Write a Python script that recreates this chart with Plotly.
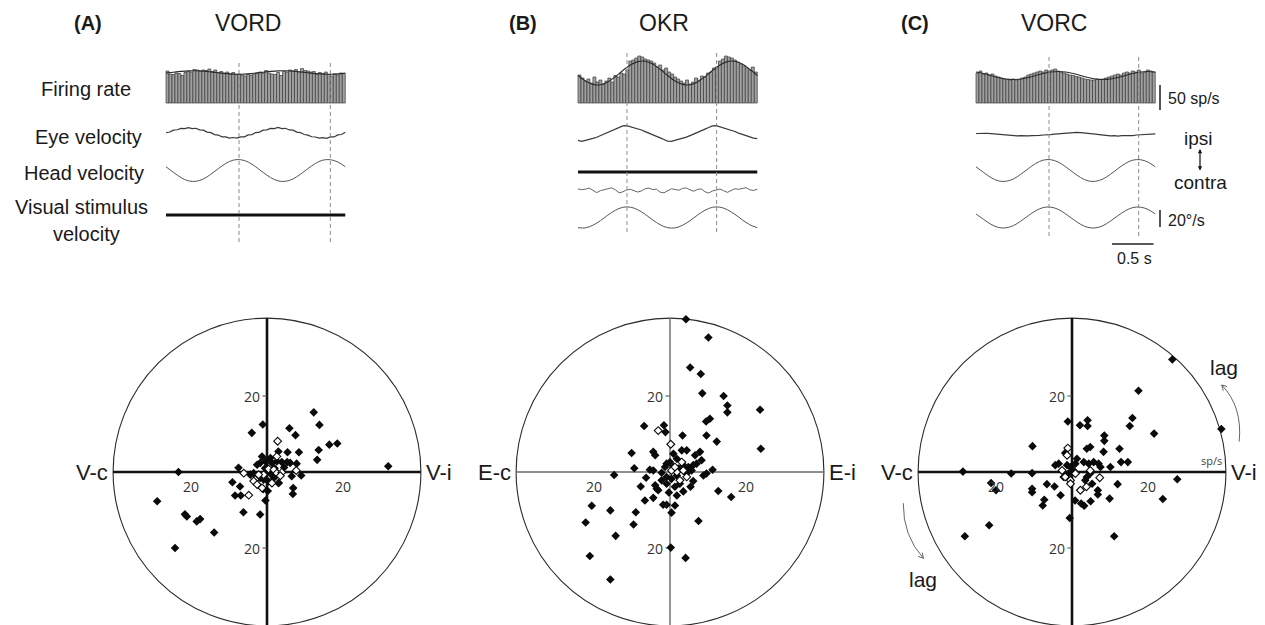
import plotly.graph_objects as go

W, H = 1265, 625

# ---------------- data ----------------
bin_w = 0.036  # histogram bin width, s
fr_A = [64, 58, 57, 60, 59, 55, 61, 63, 62, 67, 66, 64, 66, 65, 68, 63, 66, 61, 63, 60,
        62, 58, 61, 57, 58, 55, 54, 57, 56, 58, 60, 62, 59, 65, 60, 58, 57, 61, 55, 63,
        62, 66, 64, 67, 62, 69, 65, 64, 62, 63, 58, 61, 59, 62, 57, 54, 58, 56, 60, 59]
fr_B = [56, 50, 44, 48, 40, 52, 42, 46, 38, 44, 50, 42, 55, 52, 60, 58, 66, 84, 86, 90,
        94, 92, 88, 86, 84, 80, 72, 76, 66, 70, 62, 58, 52, 48, 44, 40, 46, 38, 42, 50,
        46, 54, 52, 60, 62, 70, 72, 84, 88, 94, 92, 90, 86, 82, 78, 74, 70, 66, 72, 62]
fr_C = [60, 64, 58, 60, 56, 58, 54, 52, 50, 48, 47, 46, 48, 46, 47, 50, 52, 56, 58, 60,
        62, 64, 62, 66, 64, 66, 68, 64, 62, 60, 58, 56, 55, 53, 52, 50, 48, 47, 46, 46,
        48, 47, 48, 50, 52, 54, 56, 58, 56, 60, 62, 60, 64, 62, 66, 60, 62, 66, 64, 62]

t_samp = [0.00, 0.09, 0.18, 0.27, 0.36, 0.45, 0.54, 0.63, 0.72, 0.81, 0.90, 0.99, 1.08,
          1.17, 1.26, 1.35, 1.44, 1.53, 1.62, 1.71, 1.80, 1.89, 1.98, 2.07, 2.16]
fit_A = [59.8, 61.6, 63.2, 64.3, 64.4, 63.7, 62.2, 60.4, 58.8, 57.7, 57.6, 58.3, 59.8,
         61.6, 63.2, 64.3, 64.4, 63.7, 62.2, 60.4, 58.8, 57.7, 57.6, 58.3, 59.8]
fit_B = [55.0, 43.9, 37.2, 36.5, 42.2, 52.6, 65.0, 76.1, 82.8, 83.5, 77.8, 67.4, 55.0,
         43.9, 37.2, 36.5, 42.2, 52.6, 65.0, 76.1, 82.8, 83.5, 77.8, 67.4, 55.0]
fit_C = [62.0, 59.0, 55.0, 51.0, 48.0, 47.0, 48.0, 51.0, 55.0, 59.0, 62.0, 63.0, 62.0,
         59.0, 55.0, 51.0, 48.0, 47.0, 48.0, 51.0, 55.0, 59.0, 62.0, 63.0, 62.0]

head_A = [4.4, -2.2, -8.3, -12.2, -12.7, -10.0, -4.4, 2.2, 8.3, 12.2, 12.7, 10.0, 4.4,
          -2.2, -8.3, -12.2, -12.7, -10.0, -4.4, 2.2, 8.3, 12.2, 12.7, 10.0, 4.4]
visual_A = [0] * 25
stim_B = [-12.0, -12.2, -9.1, -3.7, 2.8, 8.5, 12.0, 12.2, 9.1, 3.7, -2.8, -8.5, -12.0,
          -12.2, -9.1, -3.7, 2.8, 8.5, 12.0, 12.2, 9.1, 3.7, -2.8, -8.5, -12.0]
flat_B = [0] * 25
head_C = [4.4, -2.2, -8.3, -12.2, -12.7, -10.0, -4.4, 2.2, 8.3, 12.2, 12.7, 10.0, 4.4,
          -2.2, -8.3, -12.2, -12.7, -10.0, -4.4, 2.2, 8.3, 12.2, 12.7, 10.0, 4.4]
visual_C = [4.2, -2.1, -8.0, -11.7, -12.2, -9.6, -4.2, 2.1, 8.0, 11.7, 12.2, 9.6, 4.2,
            -2.1, -8.0, -11.7, -12.2, -9.6, -4.2, 2.1, 8.0, 11.7, 12.2, 9.6, 4.2]

t_fine = [round(0.045 * i, 3) for i in range(49)]
eye_A = [0.3, 1.2, 3.4, 3.8, 5.5, 5.1, 6.4, 5.2, 5.6, 3.7, 3.3, 1.0, 0.4, -1.9, -2.4, -4.5,
         -4.6, -6.0, -5.3, -6.1, -4.6, -4.5, -2.3, -1.9, 0.5, 1.1, 3.3, 3.7, 5.5, 5.2, 6.5,
         5.1, 5.5, 3.6, 3.4, 1.0, 0.5, -1.8, -2.5, -4.4, -4.7, -6.0, -5.4, -6.2, -4.5, -4.6,
         -2.2, -1.8, 0.9]
eye_B = [-8.1, -9.2, -8.0, -7.2, -5.8, -4.4, -2.6, -0.9, 1.2, 3.1, 5.0, 6.9, 8.9, 9.3, 8.1,
         7.0, 5.6, 4.1, 2.2, 0.6, -1.3, -3.0, -5.1, -7.0, -8.9, -9.3, -8.1, -7.1, -5.7, -4.3,
         -2.5, -0.8, 1.3, 3.2, 5.1, 7.0, 8.9, 9.3, 8.0, 7.0, 5.6, 4.2, 2.3, 0.5, -1.2, -2.9,
         -4.3, -5.4, -6.0]
noise_B = [1.2, 0.4, 1.0, 2.3, -0.4, -3.1, -0.8, 0.2, 0.9, 2.6, 0.3, -3.4, -2.2, 0.1, 0.8,
           -0.7, -2.4, -1.1, 1.6, 2.2, 0.5, 0.9, -2.6, -3.3, -0.5, 1.4, 0.6, -0.3, 1.9, 2.4,
           0.2, -1.4, 0.7, 1.3, -2.1, -3.6, -1.2, 0.4, 1.1, -0.9, -2.8, -0.6, 1.5, 0.8, 2.1,
           2.7, 0.3, -0.6, 1.0]
eye_C = [0.6, 0.9, 1.1, 0.7, 0.4, 0.0, -0.3, -0.9, -1.2, -1.5, -1.9, -2.1, -1.8, -2.3, -2.2,
         -1.9, -2.0, -1.6, -1.2, -1.4, -0.8, -0.2, 0.3, 0.8, 1.2, 1.6, 1.9, 2.0, 1.7, 1.4,
         0.9, 0.3, -0.2, -0.7, -1.3, -1.8, -2.2, -2.0, -2.4, -1.9, -2.1, -1.6, -1.8, -1.2,
         -0.9, -0.6, -0.3, -0.1, 0.2]

dash_A = [0.88, 1.98]
dash_B = [0.59, 1.67]
dash_C = [0.88, 1.96]

# polar scatter (sp/s): x = in-phase component, y = quadrature component
A_fill_x = [12.3, 13.8, -1.1, -4.0, 5.9, 7.5, 16.4, 18.5, 13.6, 13.2, 31.9, 8.4, 5.4, 3.0, 7.8, 9.0,
            6.5, 6.9, 6.8, -23.3, -7.5, -9.1, -7.1, -8.4, -6.9, -6.2, -1.8, -0.4, 3.0, -28.9,
            -21.6, -21.1, -18.5, -17.6, -13.9, -24.2, -1.3, 0.9, -0.4, -1.8, -2.6, 1.3, 2.6,
            3.9, 5.3, 6.1, -3.5, -4.4, 0.4, 1.8, 3.1, -0.9, -1.8, 0.5, -0.5, 1.0, 2.0, -2.2,
            4.5, -1.0, 0.2]
A_fill_y = [15.7, 12.4, 12.5, 10.3, 11.5, 9.7, 7.2, 7.5, 5.8, 3.2, 1.5, 5.2, 5.2, 5.4, 2.2, -0.9,
            -1.1, -4.2, -5.8, 0.0, 1.1, -2.7, -3.8, -6.2, -6.2, -10.6, -11.2, -7.5, -2.9, -7.7,
            -11.1, -11.7, -13.0, -12.4, -15.9, -20.0, 4.1, 3.7, 2.8, 2.4, 1.9, 2.4, 2.8,
            2.6, 2.6, 2.4, -0.3, -0.7, -2.5, -1.6, -2.9, -2.0, -1.6, 0.5, 1.0, -0.5, 1.0, -0.8,
            1.2, -4.5, -5.0]
A_open_x = [2.8, -6.1, -3.1, -3.5, -2.6, -1.3, -4.8, 0.4, 1.8, 2.6, 3.9, 7.7, 2.6, 1.3, 3.5, -0.9, -2.2]
A_open_y = [8.1, -0.3, -2.0, -2.4, -3.3, -4.2, -6.1, 0.8, 0.6, -0.3, -0.1, 0.4, 4.1, -2.9, -1.0, -0.7, -0.7]

B_fill_x = [4.2, 10.1, 5.3, 8.1, 8.5, 14.1, 15.1, 15.1, 23.7, 10.5, 9.5, 23.9, 12.3, 9.6, 3.3, -6.8,
            -1.6, -1.2, -10.1, -9.4, -4.4, -3.9, -14.7, -20.6, -15.7, -22.2, -9.0, -9.6, -14.3,
            -21.1, -15.7, 0.2, 4.1, 7.5, 12.7, 16.1, 11.2, 9.6, 8.8, -6.6, -4.4, -1.8, -0.9, 0.4,
            1.3, -7.7, -6.3, -5.3, -4.4, -3.9, -3.5, -3.1, -2.2, -0.3, 1.8, 3.5, 5.4, 6.1, 7.9,
            6.6, 4.4, 3.1, 0.9, 1.8, -0.9, -1.3, 0.0, 0.9, 2.2, 3.5, 4.8, 6.1, 7.0, 8.3, -0.9,
            0.4, 1.8, 2.6, 1.3, -0.9, -2.2, 4.4, 5.7]
B_fill_y = [40.2, 35.4, 27.5, 25.8, 20.7, 20.0, 17.5, 15.7, 16.4, 14.0, 13.3, 6.1, 8.0, 9.6, 9.6, 12.1,
            12.3, 10.5, 5.0, 1.0, 5.3, 4.4, -0.8, -8.9, -10.1, -13.3, -10.6, -13.8, -16.8,
            -22.1, -28.3, -19.9, -22.6, -12.9, -5.0, -6.6, 0.6, -0.4, -0.9, -7.5, -6.8, -8.6, -8.6,
            -10.7, -8.8, -3.8, -1.5, 0.6, 0.4, -3.5, -4.4, -4.8, -0.2, -5.4, -6.2, -5.1, -3.9, -2.4,
            5.3, 4.4, 5.7, 5.7, 4.8, 3.5, 2.2, 1.3, 2.6, 1.3, 0.9, 1.8, 1.3, 1.8, 2.2, 3.1, -1.3,
            -1.8, -0.9, -3.1, -3.9, -3.1, -2.2, -0.4, 0.4]
B_open_x = [-3.1, 0.2, 3.1, 1.8, 3.5, 4.4, 2.6, 0.4, 1.3]
B_open_y = [10.9, 7.3, 2.6, 0.0, 0.4, -1.3, -2.2, 0.4, 1.3]

C_fill_x = [26.4, 17.5, 39.3, 21.6, 15.9, 15.2, 12.5, 12.9, 14.7, 8.5, 8.5, 8.3, 4.1, 4.1, 2.1, -1.1,
            -10.4, 3.9, 4.8, -28.7, -16.0, -10.5, -21.3, -20.0, -10.5, -10.5, -7.3, -7.7, -6.6,
            -4.6, -3.0, -0.6, 0.8, 2.4, 3.2, 4.9, 6.8, 6.8, 9.9, 12.0, 23.9, 27.7, 11.1, -28.2,
            -21.8, 10.1, -4.4, -3.5, -1.3, -0.4, 0.9, 1.3, 3.1, 4.4, 5.7, 7.0, 7.5, 4.8, 3.9, 3.5,
            5.3, 0.4, -0.9, -2.2, -1.8]
C_fill_y = [29.6, 21.4, 11.3, 10.1, 14.2, 12.1, 6.1, 2.6, 2.6, 9.6, 8.2, 5.3, 13.6, 12.1, 12.3, 13.3,
            6.8, 6.1, 6.6, 0.1, -0.4, -0.3, -2.9, -4.8, -4.4, -5.3, -7.3, -8.8, -3.2, -3.8, -6.1,
            -12.1, -7.5, -8.3, -8.9, -7.7, -4.8, -5.9, -7.0, -3.2, -7.1, -1.9, -16.9, -16.9,
            -14.0, 1.3, 1.8, 2.2, 1.8, 1.3, 2.2, 3.5, 2.6, 2.2, 2.6, 2.2, 1.3, -0.4, -1.3, -2.2,
            -3.1, 0.4, -0.4, -1.3, 5.0]
C_open_x = [-1.1, -1.3, -2.6, -1.8, -0.4, 0.9, 2.2, 3.8, 7.3, 4.8, -0.4]
C_open_y = [6.3, 4.4, 0.4, -1.3, -2.2, -0.4, -4.8, -3.9, -1.5, 0.4, -3.1]

# ---------------- geometry ----------------
T_SCALE = 83.0     # px per second
V_SCALE = 0.85     # px per deg/s
FR_SCALE = 0.5     # px per sp/s
P_SCALE = 3.8      # px per sp/s in polar plots
R_POLAR = 40.5     # circle radius (sp/s)

def xd(a, b):
    return [a / W, b / W]

def yd(top, bot):
    return [1 - bot / H, 1 - top / H]

def pX(p):
    return p / W

def pY(p):
    return 1 - p / H

layout = {}
fig = go.Figure()

def axname(kind, n):
    return f"{kind}axis" if n == 1 else f"{kind}axis{n}"

def ref(kind, n):
    return kind if n == 1 else f"{kind}{n}"

def set_x(n, dom_px, t0_px, anchor_y):
    a, b = dom_px
    layout[axname("x", n)] = dict(domain=xd(a, b), range=[(a - t0_px) / T_SCALE, (b - t0_px) / T_SCALE],
                                   visible=False, fixedrange=True, anchor=ref("y", anchor_y))

def set_y_fr(n, base_px, anchor_x):
    top, bot = base_px - 50, base_px + 10
    layout[axname("y", n)] = dict(domain=yd(top, bot), range=[-(bot - base_px) / FR_SCALE, (base_px - top) / FR_SCALE],
                                   visible=False, fixedrange=True, anchor=ref("x", anchor_x))

def set_y_row(n, c_px, anchor_x, half=24):
    layout[axname("y", n)] = dict(domain=yd(c_px - half, c_px + half), range=[-half / V_SCALE, half / V_SCALE],
                                   visible=False, fixedrange=True, anchor=ref("x", anchor_x))

T0 = {1: 166, 2: 578, 3: 976}
set_x(1, (160, 352), T0[1], 1)
set_x(2, (572, 768), T0[2], 5)
set_x(3, (970, 1170), T0[3], 10)
# A rows
set_y_fr(1, 103, 1)
set_y_row(2, 133, 1)
set_y_row(3, 170.5, 1)
set_y_row(4, 215, 1)
# B rows
set_y_fr(5, 103, 2)
set_y_row(6, 133.5, 2)
set_y_row(7, 172, 2)
set_y_row(8, 190, 2)
set_y_row(9, 217.5, 2)
# C rows
set_y_fr(10, 103, 3)
set_y_row(11, 134, 3)
set_y_row(12, 170.5, 3)
set_y_row(13, 217.5, 3)

bins = [(i + 0.5) * bin_w for i in range(60)]

def add_hist(xn, yn, vals, fit):
    fig.add_trace(go.Bar(x=bins, y=vals, width=bin_w, xaxis=ref("x", xn), yaxis=ref("y", yn),
                         marker=dict(color="#a0a0a0", line=dict(color="#3c3c3c", width=0.7)),
                         hoverinfo="skip"))
    fig.add_trace(go.Scatter(x=t_samp, y=fit, mode="lines", line=dict(color="#2b2b2b", width=1.1, shape="spline"),
                             xaxis=ref("x", xn), yaxis=ref("y", yn), hoverinfo="skip"))

def add_line(xn, yn, t, vals, color="#3a3a3a", width=1.2, shape="linear"):
    fig.add_trace(go.Scatter(x=t, y=vals, mode="lines", line=dict(color=color, width=width, shape=shape),
                             xaxis=ref("x", xn), yaxis=ref("y", yn), hoverinfo="skip"))

add_hist(1, 1, fr_A, fit_A)
add_line(1, 2, t_fine, eye_A, "#3a3a3a", 1.2)
add_line(1, 3, t_samp, head_A, "#555555", 1.0, "spline")
add_line(1, 4, t_samp, visual_A, "#111111", 3.2)

add_hist(2, 5, fr_B, fit_B)
add_line(2, 6, t_fine, eye_B, "#3a3a3a", 1.2)
add_line(2, 7, t_samp, flat_B, "#111111", 3.2)
add_line(2, 8, t_fine, noise_B, "#555555", 0.9)
add_line(2, 9, t_samp, stim_B, "#555555", 1.0, "spline")

add_hist(3, 10, fr_C, fit_C)
add_line(3, 11, t_fine, eye_C, "#3a3a3a", 1.2)
add_line(3, 12, t_samp, head_C, "#555555", 1.0, "spline")
add_line(3, 13, t_samp, visual_C, "#555555", 1.0, "spline")

shapes = []
for xn, dl, top, bot in [(1, dash_A, 60, 242), (2, dash_B, 52, 232), (3, dash_C, 55, 236)]:
    for d in dl:
        xp = pX(T0[xn] + d * T_SCALE)
        shapes.append(dict(type="line", xref="paper", yref="paper", x0=xp, x1=xp, y0=pY(bot), y1=pY(top),
                           line=dict(color="#8c8c8c", width=1, dash="4px,3px"), layer="above"))

# scale bars in C
sb_x = pX(1160)
shapes.append(dict(type="line", xref="paper", yref="paper", x0=sb_x, x1=sb_x, y0=pY(110), y1=pY(85),
                   line=dict(color="#555555", width=2)))
shapes.append(dict(type="line", xref="paper", yref="paper", x0=sb_x, x1=sb_x, y0=pY(227), y1=pY(210),
                   line=dict(color="#555555", width=2)))
shapes.append(dict(type="line", xref="paper", yref="paper", x0=pX(1112), x1=pX(1112 + 0.5 * T_SCALE),
                   y0=pY(244), y1=pY(244), line=dict(color="#222222", width=1.3)))

# ---------------- polar plots ----------------
polar = [
    dict(n=4, yn=14, cx=267, data=(A_fill_x, A_fill_y, A_open_x, A_open_y), ax_col="#111111", ax_w=2.6,
         labels=("V-c", "V-i")),
    dict(n=5, yn=15, cx=670, data=(B_fill_x, B_fill_y, B_open_x, B_open_y), ax_col="#6a6a6a", ax_w=1.4,
         labels=("E-c", "E-i")),
    dict(n=6, yn=16, cx=1072, data=(C_fill_x, C_fill_y, C_open_x, C_open_y), ax_col="#111111", ax_w=2.6,
         labels=("V-c", "V-i")),
]
CY = 472
annotations = []
LBL_FONT = "Liberation Sans, Arial, sans-serif"
TICK_FONT = "Open Sans, DejaVu Sans, sans-serif"

for p in polar:
    n, yn, cx = p["n"], p["yn"], p["cx"]
    layout[axname("x", n)] = dict(domain=xd(cx - 175, cx + 175), range=[-175 / P_SCALE, 175 / P_SCALE],
                                   visible=False, fixedrange=True, anchor=ref("y", yn))
    layout[axname("y", yn)] = dict(domain=yd(300, 625), range=[(CY - 625) / P_SCALE, (CY - 300) / P_SCALE],
                                    visible=False, fixedrange=True, anchor=ref("x", n))
    xr, yr = ref("x", n), ref("y", yn)
    shapes.append(dict(type="circle", xref=xr, yref=yr, x0=-R_POLAR, x1=R_POLAR, y0=-R_POLAR, y1=R_POLAR,
                       line=dict(color="#2a2a2a", width=1.1), layer="below"))
    shapes.append(dict(type="line", xref=xr, yref=yr, x0=-R_POLAR, x1=R_POLAR, y0=0, y1=0,
                       line=dict(color=p["ax_col"], width=p["ax_w"]), layer="below"))
    shapes.append(dict(type="line", xref=xr, yref=yr, x0=0, x1=0, y0=-R_POLAR, y1=R_POLAR,
                       line=dict(color=p["ax_col"], width=p["ax_w"]), layer="below"))
    for v in (20, -20):
        shapes.append(dict(type="line", xref=xr, yref=yr, x0=-1.2, x1=0, y0=v, y1=v,
                           line=dict(color="#444444", width=1), layer="below"))
        annotations.append(dict(text="20", x=-1.4, y=v, xref=xr, yref=yr, xanchor="right", yanchor="middle",
                                showarrow=False, font=dict(family=TICK_FONT, size=14, color="#333333")))
        annotations.append(dict(text="20", x=v, y=-0.7, xref=xr, yref=yr, xanchor="center", yanchor="top",
                                showarrow=False, font=dict(family=TICK_FONT, size=14, color="#333333")))
    annotations.append(dict(text=p["labels"][0], x=-41.4, y=0, xref=xr, yref=yr, xanchor="right", yanchor="middle",
                            showarrow=False, font=dict(family=LBL_FONT, size=22, color="#1a1a1a")))
    annotations.append(dict(text=p["labels"][1], x=41.2, y=0, xref=xr, yref=yr, xanchor="left", yanchor="middle",
                            showarrow=False, font=dict(family=LBL_FONT, size=22, color="#1a1a1a")))
    fx, fy, ox, oy = p["data"]
    fig.add_trace(go.Scatter(x=fx, y=fy, mode="markers", xaxis=xr, yaxis=yr, hoverinfo="skip",
                             marker=dict(symbol="diamond", size=6.6, color="#0a0a0a", line=dict(width=0))))
    fig.add_trace(go.Scatter(x=ox, y=oy, mode="markers", xaxis=xr, yaxis=yr, hoverinfo="skip",
                             marker=dict(symbol="diamond", size=6.0, color="white", line=dict(color="#0a0a0a", width=1.1))))

# lag arrows on C
arrow_style = dict(color="#555555", width=0.9)
shapes.append(dict(type="path", xref="x6", yref="y16", path="M 44.0 8.0 Q 44.9 17.2 39.4 22.9", line=arrow_style))
shapes.append(dict(type="path", xref="x6", yref="y16", path="M 40.8 22.5 L 39.4 22.9 L 39.8 21.4", line=arrow_style))
shapes.append(dict(type="path", xref="x6", yref="y16", path="M -44.4 -8.2 Q -44.5 -16.8 -39.1 -22.7", line=arrow_style))
shapes.append(dict(type="path", xref="x6", yref="y16", path="M -40.5 -22.2 L -39.1 -22.7 L -39.4 -21.2", line=arrow_style))
annotations.append(dict(text="lag", x=40.0, y=27.6, xref="x6", yref="y16", showarrow=False,
                        font=dict(family=LBL_FONT, size=21, color="#1a1a1a")))
annotations.append(dict(text="lag", x=-39.3, y=-28.2, xref="x6", yref="y16", showarrow=False,
                        font=dict(family=LBL_FONT, size=21, color="#1a1a1a")))
annotations.append(dict(text="sp/s", x=36.6, y=0.6, xref="x6", yref="y16", showarrow=False, yanchor="bottom",
                        font=dict(family=TICK_FONT, size=11, color="#444444")))

# ---------------- text ----------------
def ann(text, x, y, size, bold=False, xanchor="center", color="#1a1a1a"):
    annotations.append(dict(text=f"<b>{text}</b>" if bold else text, x=pX(x), y=pY(y), xref="paper", yref="paper",
                            xanchor=xanchor, yanchor="middle", showarrow=False,
                            font=dict(family=LBL_FONT, size=size, color=color)))

ann("(A)", 88, 23, 20, bold=True)
ann("VORD", 248, 23, 23)
ann("(B)", 523, 23, 20, bold=True)
ann("OKR", 664, 23, 23)
ann("(C)", 915, 23, 20, bold=True)
ann("VORC", 1054, 23, 23)

ann("Firing rate", 86, 89, 20)
ann("Eye velocity", 88, 137, 20)
ann("Head velocity", 84, 173, 20)
ann("Visual stimulus", 81, 207, 20)
ann("velocity", 86, 234, 20)

ann("50 sp/s", 1166, 99, 16, xanchor="left")
ann("ipsi", 1198, 138, 19)
ann("contra", 1200, 183, 19)
ann("20°/s", 1166, 220, 16, xanchor="left")
ann("0.5 s", 1134, 258, 16)

annotations.append(dict(text="", x=pX(1200), y=pY(149), xref="paper", yref="paper", ax=0, ay=23,
                        showarrow=True, arrowhead=2, arrowside="end+start", arrowsize=0.7, arrowwidth=1.2,
                        arrowcolor="#111111"))

fig.update_layout(
    width=W, height=H, margin=dict(l=0, r=0, t=0, b=0),
    paper_bgcolor="white", plot_bgcolor="rgba(0,0,0,0)", showlegend=False,
    shapes=shapes, annotations=annotations, **layout,
)

fig.write_html("out.html")
